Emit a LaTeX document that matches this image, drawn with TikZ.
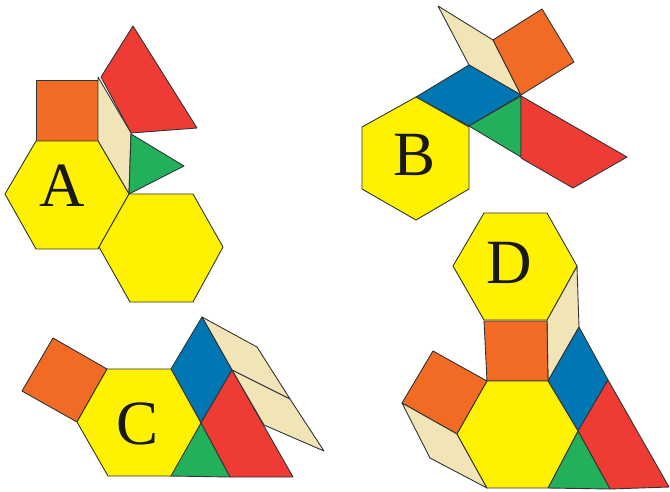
\documentclass[tikz,border=0pt]{standalone}
\usepackage{fontspec}
\setmainfont{Liberation Serif}
\definecolor{pbyellow}{HTML}{FFF200}
\definecolor{pborange}{HTML}{F26B25}
\definecolor{pbred}{HTML}{EE3C35}
\definecolor{pbgreen}{HTML}{22B15A}
\definecolor{pbblue}{HTML}{0076B3}
\definecolor{pbtan}{HTML}{F1E5B8}
\definecolor{pbline}{HTML}{333333}
\tikzset{
  blk/.style={draw=pbline, line width=0.9pt, line join=round},
  hexa/.style={blk, fill=pbyellow},
  sq/.style={blk, fill=pborange},
  trap/.style={blk, fill=pbred},
  tri/.style={blk, fill=pbgreen},
  rhb/.style={blk, fill=pbblue},
  thin/.style={blk, fill=pbtan},
  lbl/.style={font=\fontsize{63}{63}\selectfont, text=black!90, inner sep=0pt}
}
\begin{document}
\begin{tikzpicture}[x=1pt,y=-1pt]
\useasboundingbox (0,0) rectangle (670,491);
% ---------- A ----------
\filldraw[sq] (36,80) -- (98,80) -- (98,141) -- (36,141) -- cycle;
\filldraw[trap] (101,77) -- (133,26) -- (197,128) -- (131,133) -- cycle;
\filldraw[thin] (98,77) -- (131,133) -- (129,194) -- (98,141) -- cycle;
\filldraw[tri] (131,134) -- (184,166) -- (129,194) -- cycle;
\filldraw[hexa] (5,194) -- (36,141) -- (98,141) -- (129,194) -- (98,249) -- (36,249) -- cycle;
\filldraw[hexa] (129,194) -- (193,194) -- (223,247) -- (193,302) -- (130,302) -- (99,247) -- cycle;
\node[lbl] (labA) at (62,186) {A};
% ---------- B ----------
\filldraw[thin] (438,6) -- (493,40) -- (521,95) -- (469,65) -- cycle;
\filldraw[sq] (493,40) -- (542,9) -- (574,62) -- (521,95) -- cycle;
\filldraw[rhb] (416,97) -- (469,65) -- (521,95) -- (469,126) -- cycle;
\filldraw[tri] (469,126) -- (521,96) -- (521,157) -- cycle;
\filldraw[trap] (521,96) -- (627,157) -- (573,188) -- (521,158) -- cycle;
\filldraw[hexa] (416,97) -- (469,127) -- (469,189) -- (416,220) -- (362,189) -- (362,127) -- cycle;
\node[lbl] (labB) at (415,155) {B};
% ---------- C ----------
\filldraw[sq] (107,369) -- (77,422) -- (22,391) -- (53,338) -- cycle;
\filldraw[thin] (202,317) -- (257,347) -- (290,399) -- (232,370) -- cycle;
\filldraw[thin] (232,370) -- (290,399) -- (324,451) -- (264,425) -- cycle;
\filldraw[rhb] (171,369) -- (202,317) -- (232,370) -- (201,423) -- cycle;
\filldraw[trap] (201,423) -- (232,370) -- (293,477) -- (230,477) -- cycle;
\filldraw[tri] (201,423) -- (230,477) -- (170,476) -- cycle;
\filldraw[hexa] (107,369) -- (171,369) -- (201,423) -- (171,476) -- (108,476) -- (77,422) -- cycle;
\node[lbl] (labC) at (138,424) {C};
% ---------- D ----------
\filldraw[thin] (577,266) -- (579,327) -- (548,381) -- (547,320) -- cycle;
\filldraw[sq] (484,321) -- (547,321) -- (548,381) -- (487,381) -- cycle;
\filldraw[hexa] (484,213) -- (547,213) -- (577,266) -- (547,320) -- (484,320) -- (453,266) -- cycle;
\filldraw[sq] (433,351) -- (487,381) -- (457,434) -- (402,403) -- cycle;
\filldraw[thin] (402,403) -- (457,434) -- (487,488) -- (430,458) -- cycle;
\filldraw[rhb] (548,381) -- (579,327) -- (608,380) -- (578,431) -- cycle;
\filldraw[trap] (578,431) -- (608,380) -- (669,487) -- (610,489) -- cycle;
\filldraw[tri] (578,431) -- (610,489) -- (548,488) -- cycle;
\filldraw[hexa] (487,381) -- (548,381) -- (578,431) -- (548,488) -- (487,488) -- (457,434) -- cycle;
\node[lbl] (labD) at (509,263) {D};
\end{tikzpicture}
\end{document}
